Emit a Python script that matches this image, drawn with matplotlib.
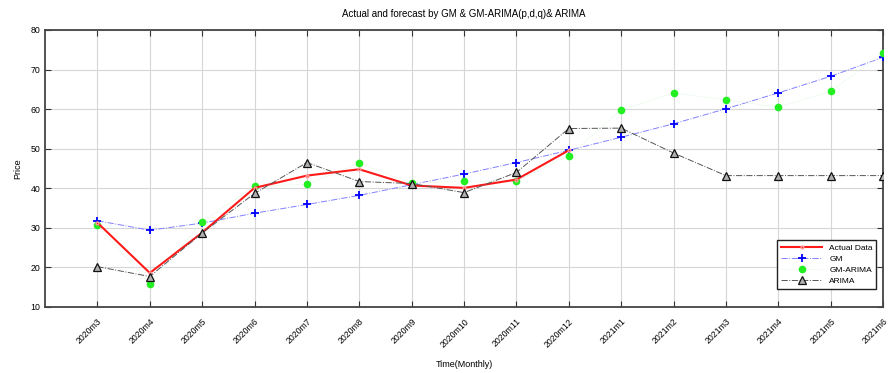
import matplotlib
matplotlib.use("Agg")
import matplotlib.pyplot as plt

months = ["2020m3", "2020m4", "2020m5", "2020m6", "2020m7", "2020m8", "2020m9",
          "2020m10", "2020m11", "2020m12", "2021m1", "2021m2", "2021m3",
          "2021m4", "2021m5", "2021m6"]

actual = [31.3, 18.6, 28.8, 40.1, 43.2, 44.8, 40.7, 40.1, 42.2, 49.6]
gm = [31.8, 29.4, 31.2, 33.7, 35.9, 38.2, 40.9, 43.6, 46.5, 49.6,
      52.9, 56.3, 60.1, 64.1, 68.3, 73.1]
gm_arima = [30.6, 15.8, 31.5, 40.5, 41.0, 46.4, 41.3, 41.8, 41.8, 48.2,
            59.8, 64.1, 62.3, 60.5, 64.5, 74.2]
arima = [20.2, 17.7, 28.7, 38.7, 46.5, 41.7, 41.2, 38.9, 44.0, 55.1,
         55.2, 48.9, 43.2, 43.2, 43.2, 43.2]

plt.rcParams["font.family"] = ["Liberation Sans", "DejaVu Sans"]

fig = plt.figure(figsize=(8.92, 3.73), dpi=100)
ax = fig.add_axes([0.0505, 0.177, 0.9395, 0.7426])

x_all = list(range(1, len(months) + 1))
x_act = x_all[:len(actual)]

ax.plot(x_act, actual, color="#ff1a1a", lw=1.5, marker="o", ms=2,
        mfc="none", mec="#ff9999", label="Actual Data", zorder=4)
ax.plot(x_all, gm, color="#8080ff", lw=0.7, ls="-.", marker="+", ms=6,
        mec="#0000ff", mew=1.3, label="GM", zorder=3)
ax.plot(x_all, gm_arima, color="#e4f8e4", lw=0.5, ls="--", marker="o", ms=4.5,
        mfc="#22ee22", mec="#22ee22", label="GM-ARIMA", zorder=3)
ax.plot(x_all, arima, color="#555555", lw=0.7, ls="-.", marker="^", ms=5.5,
        mfc="#b0b0b0", mec="#111111", mew=0.9, label="ARIMA", zorder=5)

ax.set_xlim(0, len(months))
ax.set_ylim(10, 80)
ax.set_xticks(x_all)
ax.set_xticklabels(months, rotation=45, ha="right", rotation_mode="anchor",
                   fontsize=6.3)
ax.set_yticks(range(10, 81, 10))
ax.tick_params(axis="y", labelsize=6.3)
ax.tick_params(direction="in", length=4, width=0.8, top=True, right=True,
               color="#333333")
ax.tick_params(axis="x", pad=7)

ax.grid(True, color="#d6d6d6", lw=0.8)
ax.set_axisbelow(True)
for sp in ax.spines.values():
    sp.set_linewidth(1.3)
    sp.set_color("#444444")

ax.set_title("Actual and forecast by GM & GM-ARIMA(p,d,q)& ARIMA",
             fontsize=7, pad=9)
ax.set_xlabel("Time(Monthly)", fontsize=6.5, labelpad=8)
ax.set_ylabel("Price", fontsize=6.5, labelpad=6)

leg = ax.legend(loc="lower right", bbox_to_anchor=(0.997, 0.05), fontsize=6,
                fancybox=False, framealpha=1, edgecolor="#222222",
                handlelength=5, borderpad=0.45, labelspacing=0.4)
leg.get_frame().set_linewidth(1.0)

fig.savefig("out.png", dpi=100)
